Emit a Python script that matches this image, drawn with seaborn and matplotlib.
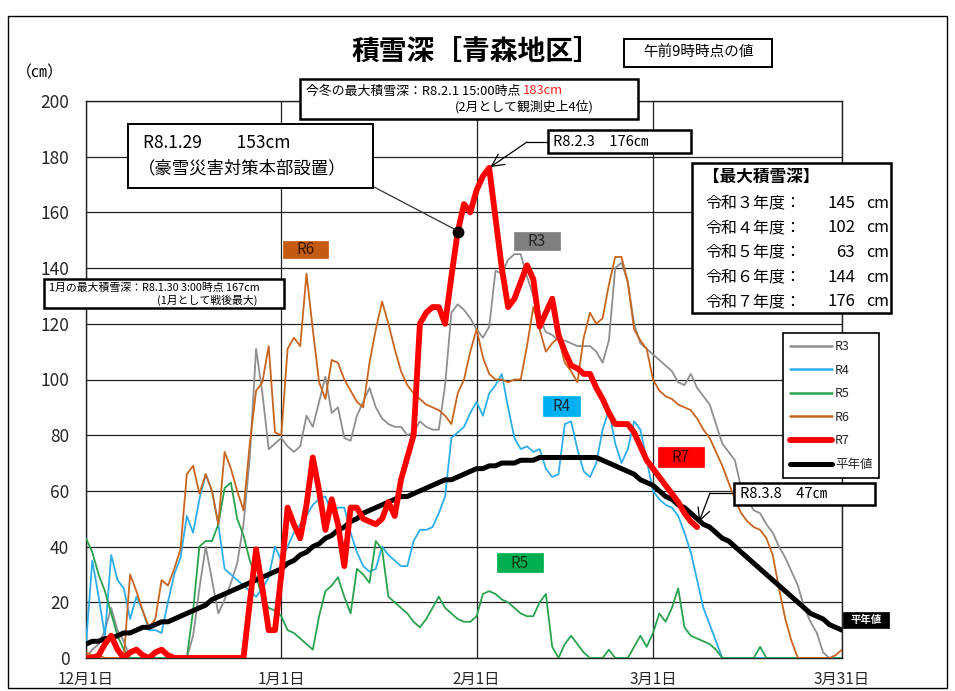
import numpy as np
import pandas as pd
import matplotlib
matplotlib.use("Agg")
import matplotlib.pyplot as plt
import seaborn as sns
from matplotlib.patches import Rectangle
from matplotlib.lines import Line2D

# ---------------- data (daily snow depth, cm; Dec 1 .. Mar 31) ----------------
start_date = "2025-12-01"
end_date = "2026-03-31"
tick_dates = ["2025-12-01", "2026-01-01", "2026-02-01", "2026-03-01", "2026-03-31"]
tick_labels = ["12月1日", "1月1日", "2月1日", "3月1日", "3月31日"]
y_ticks = [0, 20, 40, 60, 80, 100, 120, 140, 160, 180, 200]

series_names = ["R3", "R4", "R5", "R6", "R7", "平年値"]

r3 = [0, 3, 5, 10, 18, 10, 6, 0, 0, 0,
      0, 0, 0, 0, 0, 0, 0, 8, 25, 40,
      28, 16, 21, 27, 34, 48, 72, 111, 95, 75,
      77, 79, 76, 74, 76, 87, 83, 92, 101, 88,
      90, 79, 78, 87, 92, 97, 90, 86, 84, 83,
      83, 80, 81, 85, 83, 82, 82, 98, 124, 127,
      125, 122, 118, 115, 119, 139, 138, 143, 145, 145,
      137, 130, 122, 117, 116, 114, 114, 113, 112, 112,
      112, 110, 106, 114, 140, 142, 135, 120, 113, 111,
      109, 107, 105, 103, 99, 98, 102, 97, 94, 91,
      84, 77, 74, 71, 61, 57, 53, 52, 48, 45,
      40, 36, 31, 26, 18, 13, 9, 2, 0, 0,
      0]

r4 = [5, 35, 22, 8, 37, 28, 25, 14, 22, 17,
      10, 10, 9, 20, 30, 36, 51, 45, 57, 66,
      60, 48, 32, 30, 28, 26, 24, 22, 25, 29,
      40, 35, 40, 45, 48, 51, 55, 57, 58, 52,
      54, 54, 45, 38, 33, 31, 32, 40, 37, 35,
      33, 33, 42, 46, 46, 47, 52, 58, 79, 81,
      83, 88, 92, 87, 95, 98, 102, 90, 79, 75,
      76, 74, 75, 68, 65, 66, 84, 85, 75, 67,
      65, 70, 82, 89, 77, 70, 75, 85, 82, 71,
      60, 57, 55, 54, 51, 45, 38, 28, 18, 12,
      6, 0, 0, 0, 0, 0, 0, 0, 0, 0,
      0, 0, 0, 0, 0, 0, 0, 0, 0, 0,
      0]

r5 = [43, 38, 30, 24, 16, 8, 3, 0, 0, 0,
      0, 0, 0, 0, 0, 0, 0, 17, 40, 42,
      42, 48, 61, 63, 50, 44, 35, 29, 22, 18,
      17, 15, 10, 9, 7, 5, 3, 15, 24, 26,
      29, 22, 16, 32, 30, 27, 42, 39, 22, 20,
      18, 16, 13, 11, 14, 18, 22, 18, 16, 14,
      13, 13, 15, 23, 24, 23, 21, 20, 18, 16,
      15, 15, 20, 23, 4, 0, 5, 8, 5, 2,
      0, 0, 0, 3, 0, 0, 0, 4, 8, 4,
      9, 16, 13, 18, 25, 11, 8, 7, 6, 5,
      3, 0, 0, 0, 0, 0, 0, 4, 0, 0,
      0, 0, 0, 0, 0, 0, 0, 0, 0, 0,
      0]

r6 = [2, 1, 1, 0, 0, 0, 0, 30, 24, 17,
      11, 14, 28, 26, 32, 39, 66, 69, 59, 66,
      60, 48, 74, 68, 60, 53, 77, 96, 99, 112,
      81, 80, 111, 115, 112, 138, 118, 99, 93, 107,
      106, 100, 96, 92, 90, 106, 118, 128, 120, 111,
      103, 98, 95, 93, 91, 90, 89, 87, 84, 95,
      100, 110, 118, 108, 102, 100, 100, 99, 100, 100,
      112, 126, 118, 110, 113, 115, 106, 103, 99, 115,
      124, 120, 122, 134, 144, 144, 135, 118, 114, 111,
      100, 96, 94, 93, 91, 90, 89, 86, 82, 79,
      74, 69, 63, 57, 52, 49, 47, 46, 43, 37,
      25, 14, 6, 0, 0, 0, 0, 0, 0, 1,
      3]

r7 = [0, 0, 1, 5, 8, 3, 0, 2, 3, 1,
      0, 2, 3, 1, 0, 0, 0, 0, 0, 0,
      0, 0, 0, 0, 0, 0, 20, 39, 25, 10,
      10, 30, 54, 48, 43, 55, 72, 60, 46, 57,
      48, 33, 54, 54, 50, 49, 48, 50, 56, 51,
      64, 72, 80, 120, 124, 126, 126, 120, 137, 153,
      163, 160, 168, 173, 176, 158, 140, 126, 129, 135,
      141, 136, 119, 124, 129, 116, 110, 105, 104, 102,
      102, 97, 93, 88, 84, 84, 84, 81, 76, 71,
      68, 65, 62, 59, 56, 52, 49, 47]

normal = [5, 6, 6, 7, 7, 8, 9, 9, 10, 11,
          11, 12, 13, 13, 14, 15, 16, 17, 18, 19,
          21, 22, 23, 24, 25, 26, 27, 28, 29, 30,
          31, 32, 34, 35, 37, 38, 40, 41, 43, 44,
          46, 47, 49, 50, 52, 53, 54, 55, 56, 57,
          58, 58, 59, 60, 61, 62, 63, 64, 64, 65,
          66, 67, 68, 68, 69, 69, 70, 70, 70, 71,
          71, 71, 72, 72, 72, 72, 72, 72, 72, 72,
          72, 72, 71, 70, 69, 68, 67, 66, 64, 63,
          62, 60, 58, 57, 55, 54, 52, 50, 48, 47,
          45, 43, 42, 40, 38, 36, 34, 32, 30, 28,
          26, 24, 22, 20, 18, 16, 15, 14, 12, 11,
          10]

marked_day = "2026-01-29"     # 153cm dot
peak_day = "2026-02-03"       # 176cm
last_day = "2026-03-08"       # 47cm

# ---------------- style ----------------
sns.set_theme(style="white")
plt.rcParams["font.family"] = ["Noto Sans CJK JP", "DejaVu Sans"]

W, H = 955, 691
fig = plt.figure(figsize=(W / 100, H / 100), dpi=100)
fig.patch.set_facecolor("white")


def fx(x):
    return x / W


def fy(y):
    return 1 - y / H


ax = fig.add_axes([fx(86), fy(658), (842 - 86) / W, (658 - 101) / H])
ax.set_facecolor("white")

dates = pd.date_range(start_date, end_date)
day_index = {d: i for i, d in enumerate(dates)}


def day_of(s):
    return day_index[pd.Timestamp(s)]


colors = {"R3": "#8f8f8f", "R4": "#2eaee8", "R5": "#2aa24e", "R6": "#c8651f",
          "R7": "#ff0000", "平年値": "#000000"}
widths = {"R3": 1.3, "R4": 1.3, "R5": 1.3, "R6": 1.3, "R7": 4.2, "平年値": 3.6}
zord = {"R3": 3, "R4": 3, "R5": 3, "R6": 3, "平年値": 4, "R7": 5}
values = {"R3": r3, "R4": r4, "R5": r5, "R6": r6, "R7": r7, "平年値": normal}

for name in ["R3", "R4", "R5", "R6", "平年値", "R7"]:
    v = values[name]
    df = pd.DataFrame({"day": np.arange(len(v)), "depth": v})
    sns.lineplot(data=df, x="day", y="depth", color=colors[name],
                 linewidth=widths[name], ax=ax, zorder=zord[name],
                 legend=False, solid_capstyle="round", solid_joinstyle="round")

md = day_of(marked_day)
ax.plot([md], [r7[md]], "o", color="black", ms=7.5, zorder=6)

ax.set_xlim(0, len(dates) - 1)
ax.set_ylim(0, 200)
ax.set_xticks([day_of(d) for d in tick_dates])
ax.set_xticklabels(tick_labels, fontsize=11)
ax.set_yticks(y_ticks)
ax.set_yticklabels([str(t) for t in y_ticks], fontsize=12.5)
ax.tick_params(axis="both", length=0)
ax.tick_params(axis="y", pad=12)
ax.tick_params(axis="x", pad=9)
ax.set_xlabel("")
ax.set_ylabel("")
ax.grid(True, color="#222222", linewidth=0.9)
for s in ax.spines.values():
    s.set_visible(True)
    s.set_color("#222222")
    s.set_linewidth(1.0)

# ---------------- legend ----------------
handles = [Line2D([0], [0], color=colors[n], lw=(widths[n] if n in ("R7", "平年値") else 1.8),
                  solid_capstyle="round") for n in series_names]
leg = ax.legend(handles, series_names, loc="upper left",
                bbox_to_anchor=(fx(783), fy(333)), bbox_transform=fig.transFigure,
                frameon=True, fancybox=False, edgecolor="black", fontsize=9,
                handlelength=3.4, handletextpad=0.2, labelspacing=0.85,
                borderpad=0.55, borderaxespad=0, framealpha=1)
leg.get_frame().set_linewidth(1.2)
leg.set_zorder(10)


# ---------------- decorations ----------------
def box(x0, y0, x1, y1, fc="white", ec="black", lw=1.6, z=5):
    fig.add_artist(Rectangle((fx(x0), fy(y1)), (x1 - x0) / W, (y1 - y0) / H,
                             transform=fig.transFigure, facecolor=fc, edgecolor=ec,
                             linewidth=lw, zorder=z))


def txt(x, y, s, size, ha="left", va="center", color="black", **kw):
    return fig.text(fx(x), fy(y), s, fontsize=size, ha=ha, va=va, color=color,
                    zorder=8, **kw)


# outer frame
fig.add_artist(Rectangle((fx(8), fy(688)), (947 - 8) / W, (688 - 16) / H,
                         transform=fig.transFigure, facecolor="none",
                         edgecolor="black", linewidth=1.0, zorder=1))

# title
txt(476, 52, "積雪深［青森地区］", 20, ha="center", weight="bold")
box(624, 39, 772, 67, lw=1.4)
txt(698, 53, "午前9時時点の値", 10.5, ha="center")
txt(40, 73, "（㎝）", 11.5, ha="center")

# winter max box
box(300, 79, 638, 119, lw=1.8)
t1 = txt(306, 91, "今冬の最大積雪深：R8.2.1 15:00時点 ", 9.3)
fig.canvas.draw()
bb = t1.get_window_extent(renderer=fig.canvas.get_renderer())
txt(bb.x1, 91, "183cm", 9.3, color="#ff2020")
txt(524, 107, "(2月として観測史上4位)", 9.3, ha="center")

# 1.29 box
box(128, 124, 373, 188, lw=1.4)
txt(143, 143, "R8.1.29　　153cm", 12.5)
txt(138, 168, "（豪雪災害対策本部設置）", 12.5)
fig.add_artist(Line2D([fx(374), fx(456)], [fy(187), fy(230)],
                      transform=fig.transFigure, color="#333333", lw=0.9, zorder=4))

# peak box
box(548, 130, 691, 153, lw=1.8)
txt(553, 142, "R8.2.3　176㎝", 10.5)
fig.add_artist(Line2D([fx(548), fx(527)], [fy(142), fy(142)],
                      transform=fig.transFigure, color="black", lw=0.9, zorder=4))
pk = day_of(peak_day)
ax.annotate("", xy=(pk, r7[pk]), xycoords="data", xytext=(fx(527), fy(142)),
            textcoords="figure fraction",
            arrowprops=dict(arrowstyle="->", color="black", lw=0.9,
                            mutation_scale=22, shrinkA=0, shrinkB=1),
            annotation_clip=False, zorder=7)

# max table
box(692, 163, 891, 313, lw=1.8)
txt(703, 177, "【最大積雪深】", 12, weight="bold")
table_labels = ["令和３年度：", "令和４年度：", "令和５年度：", "令和６年度：", "令和７年度："]
table_values = ["145", "102", "63", "144", "176"]
for i, (lab, val) in enumerate(zip(table_labels, table_values)):
    yy = 203 + i * 24.7
    txt(705, yy, lab, 11.5)
    txt(855, yy, val, 12, ha="right")
    txt(866, yy, "cm", 11.5)

# January box
box(44, 279, 284, 308, lw=1.8)
txt(49, 288, "1月の最大積雪深：R8.1.30 3:00時点 167cm", 7.8)
txt(207, 300, "(1月として戦後最大)", 7.8, ha="center")

# last day box
box(734, 483, 875, 505, lw=1.8)
txt(740, 494, "R8.3.8　47㎝", 10.5)
fig.add_artist(Line2D([fx(734), fx(710)], [fy(493), fy(493)],
                      transform=fig.transFigure, color="black", lw=0.9, zorder=4))
ld = day_of(last_day)
ax.annotate("", xy=(ld, r7[ld]), xycoords="data", xytext=(fx(710), fy(493)),
            textcoords="figure fraction",
            arrowprops=dict(arrowstyle="->", color="black", lw=0.9,
                            mutation_scale=22, shrinkA=0, shrinkB=4),
            annotation_clip=False, zorder=7)

# series label chips
chips = [("R6", 283, 241, 328, 258, "#c55a11", "#3b1a05"),
         ("R3", 514, 232, 560, 250, "#7f7f7f", "#262626"),
         ("R4", 543, 396, 580, 416, "#00b0f0", "#1a2a3a"),
         ("R5", 497, 553, 543, 572, "#00b050", "#113311"),
         ("R7", 658, 447, 704, 467, "#ff0000", "#3a0000")]
for lab, x0, y0, x1, y1, fc, tc in chips:
    box(x0, y0, x1, y1, fc=fc, ec=fc, lw=0.5)
    txt((x0 + x1) / 2, (y0 + y1) / 2 + 0.5, lab, 11, ha="center", color=tc)

box(843, 612, 889, 628, fc="black", ec="black", lw=0.5)
txt(866, 620, "平年値", 7.5, ha="center", color="white", weight="bold")

fig.savefig("out.png", dpi=100, facecolor="white")
